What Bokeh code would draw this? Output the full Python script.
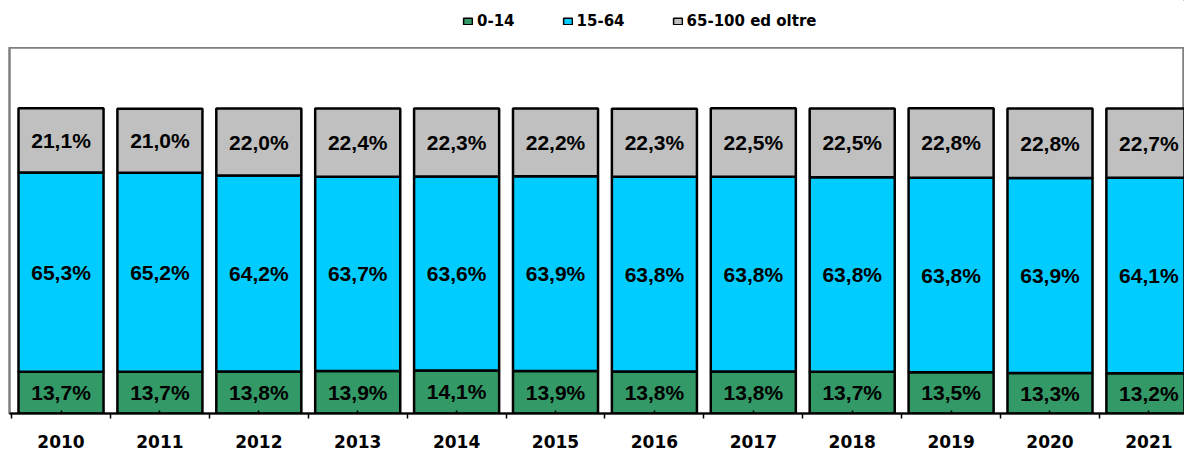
from bokeh.plotting import figure
from bokeh.models import Range1d, FixedTicker, Legend, LegendItem, ColumnDataSource
from bokeh.layouts import column
from bokeh.embed import file_html
from bokeh.resources import INLINE
from bokeh.core.properties import value

years = ["2010", "2011", "2012", "2013", "2014", "2015", "2016", "2017", "2018", "2019", "2020", "2021"]
age_0_14 = [13.7, 13.7, 13.8, 13.9, 14.1, 13.9, 13.8, 13.8, 13.7, 13.5, 13.3, 13.2]
age_15_64 = [65.3, 65.2, 64.2, 63.7, 63.6, 63.9, 63.8, 63.8, 63.8, 63.8, 63.9, 64.1]
age_65_plus = [21.1, 21.0, 22.0, 22.4, 22.3, 22.2, 22.3, 22.5, 22.5, 22.8, 22.8, 22.7]
series_names = ["0-14", "15-64", "65-100 ed oltre"]
colors = ["#339966", "#00CCFF", "#C0C0C0"]

x = list(range(len(years)))

# ---- legend strip (top) ----
lg = figure(width=1184, height=47, output_backend="svg", toolbar_location=None,
            x_range=Range1d(0, 1), y_range=Range1d(0, 1),
            min_border_left=0, min_border_right=0, min_border_top=0, min_border_bottom=0)
lg.axis.visible = False
lg.grid.visible = False
lg.outline_line_color = None
lg.background_fill_color = "white"
lg.border_fill_color = "white"
leg_items = []
for name, col in zip(series_names, colors):
    # a swatch renderer placed outside the visible range; only its legend entry shows
    rr = lg.vbar(x=[5], top=[5], bottom=[4], width=0.1, fill_color=col,
                 line_color="black", line_width=1.5)
    leg_items.append(LegendItem(label=name, renderers=[rr]))
legend = Legend(items=leg_items, orientation="horizontal", location=(453, 17),
                glyph_width=11, glyph_height=8, spacing=47, label_standoff=4,
                padding=4, margin=0, border_line_color=None,
                label_text_font="DejaVu Sans", label_text_font_style="bold",
                label_text_font_size="15px", label_height=14, label_text_color="black",
                background_fill_alpha=0)
lg.add_layout(legend)

# ---- main chart ----
p = figure(width=1184, height=403, output_backend="svg", toolbar_location=None,
           x_range=Range1d(-0.521, 11.36), y_range=Range1d(0, 120),
           min_border_left=9, min_border_right=0, min_border_top=0, min_border_bottom=36)
p.background_fill_color = "white"
p.border_fill_color = "white"
p.outline_line_color = "#808080"
p.outline_line_width = 2.5
p.xgrid.visible = False
p.ygrid.visible = False
p.yaxis.visible = False

def fmt(v):
    return f"{v:.1f}".replace(".", ",") + "%"

bottom = [0.0] * len(years)
for name, vals, col in zip(series_names, [age_0_14, age_15_64, age_65_plus], colors):
    top = [b + v for b, v in zip(bottom, vals)]
    src = ColumnDataSource(dict(x=x, bottom=bottom, top=top,
                                mid=[(b + t) / 2 for b, t in zip(bottom, top)],
                                label=[fmt(v) for v in vals]))
    p.vbar(x="x", bottom="bottom", top="top", width=0.86, source=src,
           fill_color=col, line_color="black", line_width=2.5)
    p.text(x="x", y="mid", text="label", source=src, text_align="center",
           text_baseline="middle", text_font=value("Liberation Sans"),
           text_font_style="bold", text_font_size="21px", text_color="black")
    bottom = top

ax = p.xaxis[0]
ax.ticker = FixedTicker(ticks=x, minor_ticks=[i - 0.5 for i in range(len(years) + 1)])
ax.major_label_overrides = {i: y for i, y in zip(x, years)}
ax.axis_line_color = "black"
ax.axis_line_width = 2
ax.major_tick_in = 3
ax.major_tick_out = 0
ax.major_tick_line_color = "black"
ax.major_tick_line_width = 1.5
ax.minor_tick_in = 0
ax.minor_tick_out = 5
ax.minor_tick_line_color = "black"
ax.minor_tick_line_width = 1.5
ax.major_label_standoff = 16
ax.major_label_text_font = "DejaVu Sans"
ax.major_label_text_font_style = "bold"
ax.major_label_text_font_size = "17px"
ax.major_label_text_color = "black"

layout = column(lg, p, spacing=0)
open("out.html", "w").write(file_html(layout, INLINE))
